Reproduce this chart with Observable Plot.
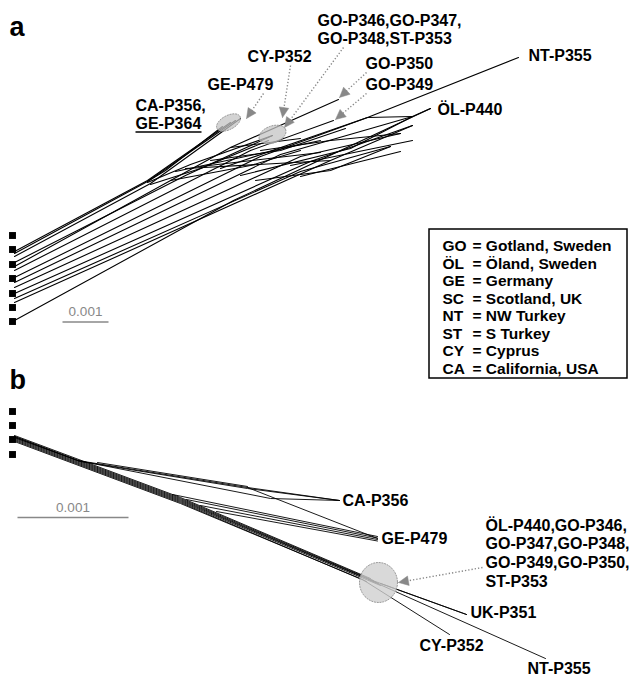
<!DOCTYPE html>
<html><head><meta charset="utf-8">
<script src="https://cdn.jsdelivr.net/npm/d3@7"></script>
<script src="https://cdn.jsdelivr.net/npm/@observablehq/plot@0.6"></script>
<style>body{margin:0;background:#fff}#chart svg{display:block}</style>
</head><body><div id="chart"></div>
<script>
// ---------- Panel a : network edges (node positions) ----------
const edgesA = [
  // CA-P356 / GE-P364 / GE-P479 cluster
  [[14,251],[147,180],[230,122]],
  [[14,253],[147,181],[235,120]],
  [[14,256],[150,183],[240,118]],
  [[147,181],[165,170],[222,126]],
  // branch from the cluster node to the CY/GO circle
  [[147,182],[190,164],[272,135]],
  [[150,184],[200,168],[268,140]],
  // main bundle
  [[14,262],[185,175],[272,135]],
  [[14,266],[230,147],[338,99]],
  [[14,270],[250,150],[333,120]],
  [[14,277],[260,156],[367,117],[518,57]],
  [[14,282],[280,154],[412,116],[430,108]],
  [[14,287],[300,156],[400,133]],
  [[14,293],[310,161],[412,125]],
  [[14,298],[300,171],[390,146]],
  [[14,302],[330,160]],
  [[14,320],[233,200],[430,108]],
  // reticulation mesh
  [[175,171],[320,140]],
  [[185,168],[330,160],[412,125]],
  [[200,166],[320,152]],
  [[220,168],[367,117]],
  [[240,175],[350,148],[412,116]],
  [[290,165],[412,140]],
  [[300,176],[400,151]],
  [[367,117],[412,116]],
  [[260,150],[330,140],[400,133]],
  [[170,180],[250,165],[300,150]],
  [[210,160],[280,150],[345,128]],
  [[255,180],[330,170],[390,146]],
  [[230,147],[300,138]]
];
const squaresA = [235,249,264,278,293,307,321];

const labelsA = [
  {t:"CA-P356,", x:135, y:105},
  {t:"GE-P364", x:135, y:123},
  {t:"GE-P479", x:207, y:84},
  {t:"CY-P352", x:247, y:56},
  {t:"GO-P346,GO-P347,", x:317, y:20},
  {t:"GO-P348,ST-P353", x:317, y:38},
  {t:"GO-P350", x:365, y:63},
  {t:"GO-P349", x:365, y:84},
  {t:"NT-P355", x:528, y:55},
  {t:"ÖL-P440", x:437, y:109}
];
const arrowsA = [
  [263,93,246,118],
  [290,65,282,117],
  [343,47,284,127],
  [366,72,339,97],
  [366,93,335,119]
];
const blobsA = [
  {cx:228, cy:122, rx:13, ry:7, a:-28},
  {cx:272, cy:134, rx:14, ry:8.5, a:-20}
];

// ---------- Panel b ----------
const edgesB = [
  // main bundle to the GO/ÖL/ST circle
  [[14,435],[180,497],[370,578]],
  [[14,436],[180,498],[373,580]],
  [[14,437],[180,499],[376,582]],
  [[14,438],[180,500],[378,583]],
  [[14,439],[180,501],[380,585]],
  [[14,440],[180,502],[366,581]],
  [[14,441],[180,503],[362,579]],
  // tips
  [[372,580],[466,614]],
  [[380,583],[466,614]],
  [[362,579],[449,634]],
  [[368,579],[545,658]],
  // CA-P356 branch
  [[14,436],[77,460],[247,487],[339,500]],
  [[14,437],[80,461],[247,488],[339,500]],
  [[97,462],[247,486]],
  [[77,460],[270,498],[339,500]],
  [[247,487],[377,538]],
  // GE-P479 branch
  [[172,494],[377,536]],
  [[186,499],[377,537.5]],
  [[200,505],[377,539]],
  [[216,511],[377,540.5]]
];
const squaresB = [411,425,439,454];
const labelsB = [
  {t:"CA-P356", x:342, y:500},
  {t:"GE-P479", x:381, y:538},
  {t:"ÖL-P440,GO-P346,", x:485, y:525},
  {t:"GO-P347,GO-P348,", x:485, y:543},
  {t:"GO-P349,GO-P350,", x:485, y:562},
  {t:"ST-P353", x:485, y:581},
  {t:"UK-P351", x:470, y:612},
  {t:"CY-P352", x:419, y:645},
  {t:"NT-P355", x:527, y:668}
];
const arrowsB = [[482,567,398,582]];
const blobsB = [{cx:378, cy:582, rx:19, ry:20, a:0}];

// ---------- Legend ----------
const legendCodes = ["GO","ÖL","GE","SC","NT","ST","CY","CA"];
const legendNames = ["= Gotland, Sweden","= Öland, Sweden","= Germany","= Scotland, UK","= NW Turkey","= S Turkey","= Cyprus","= California, USA"];
const legendRowY = [246,263.5,281,298.5,316,333.5,351,368.5];

// scale bars: 0.001 substitutions per site
const scaleBars = [
  {x1:62, x2:108, y:321.5, label:"0.001"},
  {x1:17, x2:128, y:517, label:"0.001"}
];

// ---------- helpers (geometry from the data above) ----------
const toRows = edges => edges.flatMap((pts,i)=>pts.map(([x,y])=>({x,y,id:i})));
function ellipseRows(list){
  return list.flatMap((b,i)=>{
    const r = b.a*Math.PI/180, out=[];
    for(let k=0;k<=48;k++){
      const t=k/48*2*Math.PI, ex=b.rx*Math.cos(t), ey=b.ry*Math.sin(t);
      out.push({id:i, x:b.cx+ex*Math.cos(r)-ey*Math.sin(r), y:b.cy+ex*Math.sin(r)+ey*Math.cos(r)});
    }
    return out;
  });
}
function headRows(list){
  return list.flatMap(([x1,y1,x2,y2],i)=>{
    const dx=x2-x1, dy=y2-y1, L=Math.hypot(dx,dy), ux=dx/L, uy=dy/L, hl=10, hw=4.8;
    const bx=x2-ux*hl, by=y2-uy*hl;
    return [{id:i,x:x2,y:y2},{id:i,x:bx-uy*hw,y:by+ux*hw},{id:i,x:bx+uy*hw,y:by-ux*hw},{id:i,x:x2,y:y2}];
  });
}
const shaft = list => list.map(([x1,y1,x2,y2])=>{
  const dx=x2-x1, dy=y2-y1, L=Math.hypot(dx,dy);
  return {x1,y1,x2:x2-dx/L*8,y2:y2-dy/L*8};
});

const FONT = "'Liberation Sans', Arial, Helvetica, sans-serif";
const labelOpts = {x:"x", y:"y", text:"t", textAnchor:"start", lineAnchor:"middle", fontSize:16, fontWeight:"bold", fill:"black"};

const chart = Plot.plot({
  width:630, height:681, margin:0,
  x:{domain:[0,630], range:[0,630], axis:null},
  y:{domain:[0,681], range:[0,681], axis:null},
  style:{background:"white", fontFamily:FONT},
  marks:[
    // network lines
    Plot.line(toRows(edgesA), {x:"x", y:"y", z:"id", stroke:"black", strokeWidth:1.1}),
    Plot.line(toRows(edgesB), {x:"x", y:"y", z:"id", stroke:"black", strokeWidth:0.9}),
    // shaded groups
    Plot.line(ellipseRows(blobsA), {x:"x", y:"y", z:"id", fill:"#c4c4c4", fillOpacity:0.75, stroke:"#999", strokeWidth:1, strokeDasharray:"1.2,1.6"}),
    Plot.line(ellipseRows(blobsB), {x:"x", y:"y", z:"id", fill:"#cfcfcf", fillOpacity:0.8, stroke:"#999", strokeWidth:1, strokeDasharray:"1.2,1.6"}),
    // dotted arrows
    Plot.link(shaft(arrowsA.concat(arrowsB)), {x1:"x1", y1:"y1", x2:"x2", y2:"y2", stroke:"#888", strokeWidth:1.4, strokeDasharray:"1.3,2"}),
    Plot.line(headRows(arrowsA.concat(arrowsB)), {x:"x", y:"y", z:"id", fill:"#888", stroke:"#888", strokeWidth:0.5}),
    // terminal squares
    Plot.dot(squaresA, {x:()=>12, y:d=>d, symbol:"square", r:3.9, fill:"black", stroke:null}),
    Plot.dot(squaresB, {x:()=>12, y:d=>d, symbol:"square", r:3.9, fill:"black", stroke:null}),
    // scale bars
    Plot.link(scaleBars, {x1:"x1", x2:"x2", y1:"y", y2:"y", stroke:"#888", strokeWidth:1.6}),
    Plot.text(scaleBars, {x:d=>(d.x1+d.x2)/2, y:d=>d.y-10, text:"label", fontSize:13.5, fill:"#888", lineAnchor:"middle"}),
    // panel letters
    Plot.text(["a","b"], {x:()=>9, y:(d,i)=>[35,388][i], text:d=>d, textAnchor:"start", lineAnchor:"bottom", fontSize:27, fontWeight:"bold", fill:"black"}),
    // labels
    Plot.text(labelsA, labelOpts),
    Plot.text(labelsB, labelOpts),
    Plot.link([{x1:135,x2:201,y:131.5}], {x1:"x1", x2:"x2", y1:"y", y2:"y", stroke:"black", strokeWidth:1.4}),
    // legend
    Plot.rect([{x1:429,x2:627,y1:229,y2:378}], {x1:"x1", x2:"x2", y1:"y1", y2:"y2", fill:"white", stroke:"black", strokeWidth:1.5}),
    Plot.text(legendCodes, {x:()=>442, y:(d,i)=>legendRowY[i], text:d=>d, textAnchor:"start", lineAnchor:"middle", fontSize:15.5, fontWeight:"bold", fill:"black"}),
    Plot.text(legendNames, {x:()=>472, y:(d,i)=>legendRowY[i], text:d=>d, textAnchor:"start", lineAnchor:"middle", fontSize:15.5, fontWeight:"bold", fill:"black"})
  ]
});
document.getElementById("chart").appendChild(chart);
</script>
</body></html>
